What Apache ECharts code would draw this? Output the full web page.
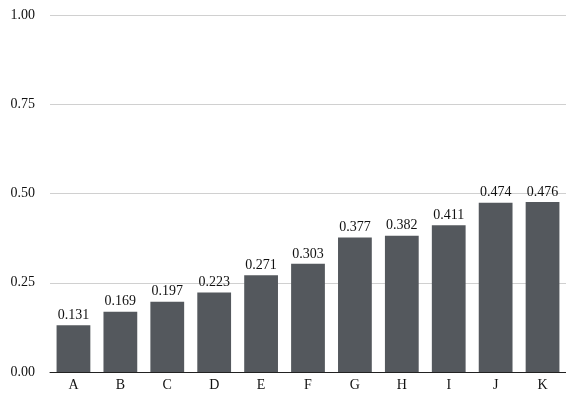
<!DOCTYPE html>
<html><head><meta charset="utf-8">
<script src="https://cdn.jsdelivr.net/npm/echarts@6/dist/echarts.min.js"></script>
<style>html,body{margin:0;padding:0;background:#fff}#c{width:566px;height:394px}</style>
</head><body><div id="c"></div>
<script>
const categories = ['A','B','C','D','E','F','G','H','I','J','K'];
const values = [0.131,0.169,0.197,0.223,0.271,0.303,0.377,0.382,0.411,0.474,0.476];
const yTicks = [0,0.25,0.5,0.75,1];
const font = 'Liberation Serif, Times New Roman, serif';
const chart = echarts.init(document.getElementById('c'));
chart.setOption({
  animation:false,
  grid:{left:50,right:0,top:15,bottom:22},
  xAxis:{type:'category',data:categories,
    axisLine:{lineStyle:{color:'#222',width:1}},axisTick:{show:false},
    axisLabel:{color:'#111',fontFamily:font,fontSize:14,margin:6}},
  yAxis:{type:'value',min:0,max:1,interval:0.25,
    axisLine:{show:false},axisTick:{show:false},
    splitLine:{lineStyle:{color:'#d0d0d0'}},
    axisLabel:{color:'#111',fontFamily:font,fontSize:14,margin:15,formatter:v=>v.toFixed(2)}},
  series:[{type:'bar',data:values,barWidth:'72%',
    itemStyle:{color:'#54585d'},
    label:{show:true,position:'top',distance:3,color:'#111',fontFamily:font,fontSize:14,formatter:p=>p.value.toFixed(3)}}]
});
</script></body></html>
